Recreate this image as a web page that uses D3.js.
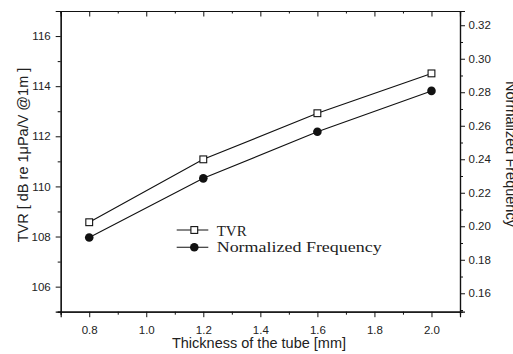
<!DOCTYPE html>
<html>
<head>
<meta charset="utf-8">
<script src="https://cdn.jsdelivr.net/npm/d3@7"></script>
<style>
  html, body { margin: 0; padding: 0; background: #fff; }
  svg { display: block; }
  .tick text { font-family: Arial, "Liberation Sans", sans-serif; font-size: 11.5px; fill: #222; }
</style>
</head>
<body>
<svg id="chart" width="513" height="354"></svg>
<script>
// Tube wall thickness (mm)
const thickness = [0.8, 1.2, 1.6, 2.0];
// Transmitting voltage response, dB re 1uPa/V @1m (left axis)
const tvr = [108.57, 111.08, 112.92, 114.51];
// Normalized resonance frequency (right axis)
const normFreq = [0.1933, 0.2286, 0.2564, 0.2808];

const xMajorTicks = [0.8, 1.0, 1.2, 1.4, 1.6, 1.8, 2.0];
const xMinorTicks = [0.7, 0.9, 1.1, 1.3, 1.5, 1.7, 1.9, 2.1];
const yLeftMajorTicks = [106, 108, 110, 112, 114, 116];
const yLeftMinorTicks = [105, 107, 109, 111, 113, 115, 117];
const yRightMajorTicks = [0.16, 0.18, 0.20, 0.22, 0.24, 0.26, 0.28, 0.30, 0.32];
const yRightMinorTicks = [0.15, 0.17, 0.19, 0.21, 0.23, 0.25, 0.27, 0.29, 0.31];

const seriesNames = ["TVR", "Normalized Frequency"];

const svg = d3.select("#chart");
const plot = { left: 60.7, right: 460, top: 11, bottom: 311.7 };

const x = d3.scaleLinear().domain([0.7, 2.1]).range([plot.left, plot.right]);
const yL = d3.scaleLinear().domain([105, 117]).range([plot.bottom, plot.top]);
const yR = d3.scaleLinear().domain([0.149, 0.3285]).range([plot.bottom, plot.top]);

svg.append("rect").attr("width", 513).attr("height", 354).attr("fill", "#fff");

function styleAxis(g) {
  g.select(".domain").attr("stroke", "#111").attr("stroke-width", 1.2);
  g.selectAll(".tick line").attr("stroke", "#111").attr("stroke-width", 1);
}

// Bottom axis
svg.append("g").attr("transform", `translate(0,${plot.bottom})`)
  .call(d3.axisBottom(x).tickValues(xMajorTicks).tickSize(5.5).tickPadding(9)
    .tickFormat(d3.format(".1f")))
  .call(styleAxis);
svg.append("g").attr("transform", `translate(0,${plot.bottom})`)
  .call(d3.axisBottom(x).tickValues(xMinorTicks).tickSize(3).tickFormat(""))
  .call(styleAxis);

// Top axis (ticks inward)
svg.append("g").attr("transform", `translate(0,${plot.top})`)
  .call(d3.axisTop(x).tickValues(xMajorTicks).tickSize(-5.5).tickFormat(""))
  .call(styleAxis);
svg.append("g").attr("transform", `translate(0,${plot.top})`)
  .call(d3.axisTop(x).tickValues(xMinorTicks).tickSize(-2.5).tickFormat(""))
  .call(styleAxis);

// Left axis
svg.append("g").attr("transform", `translate(${plot.left},0)`)
  .call(d3.axisLeft(yL).tickValues(yLeftMajorTicks).tickSize(5).tickPadding(5)
    .tickFormat(d3.format("d")))
  .call(styleAxis);
svg.append("g").attr("transform", `translate(${plot.left},0)`)
  .call(d3.axisLeft(yL).tickValues(yLeftMinorTicks).tickSize(3).tickFormat(""))
  .call(styleAxis);

// Right axis
svg.append("g").attr("transform", `translate(${plot.right},0)`)
  .call(d3.axisRight(yR).tickValues(yRightMajorTicks).tickSize(5).tickPadding(3.5)
    .tickFormat(d3.format(".2f")))
  .call(styleAxis);
svg.append("g").attr("transform", `translate(${plot.right},0)`)
  .call(d3.axisRight(yR).tickValues(yRightMinorTicks).tickSize(3).tickFormat(""))
  .call(styleAxis);

// Axis titles
const titleFont = "Arial, 'Liberation Sans', sans-serif";
svg.append("text")
  .attr("transform", "translate(27.5,155) rotate(-90)")
  .attr("text-anchor", "middle")
  .attr("font-family", titleFont).attr("font-size", 14.5).attr("fill", "#222")
  .text("TVR [ dB re 1\u03BCPa/V @1m ]");
svg.append("text")
  .attr("transform", "translate(506,154) rotate(90)")
  .attr("text-anchor", "middle")
  .attr("font-family", titleFont).attr("font-size", 14.5).attr("fill", "#222")
  .text("Normalized Frequency");
svg.append("text")
  .attr("x", 259).attr("y", 348)
  .attr("text-anchor", "middle")
  .attr("font-family", titleFont).attr("font-size", 14.5).attr("fill", "#222")
  .text("Thickness of the tube [mm]");

// Series
const tvrPts = thickness.map((t, i) => [x(t), yL(tvr[i])]);
const nfPts = thickness.map((t, i) => [x(t), yR(normFreq[i])]);
const line = d3.line();

svg.append("path").attr("d", line(tvrPts))
  .attr("fill", "none").attr("stroke", "#111").attr("stroke-width", 1.1);
svg.append("path").attr("d", line(nfPts))
  .attr("fill", "none").attr("stroke", "#111").attr("stroke-width", 1.1);

const sq = 6.8;
svg.append("g").selectAll("rect").data(tvrPts).join("rect")
  .attr("x", d => d[0] - sq / 2).attr("y", d => d[1] - sq / 2)
  .attr("width", sq).attr("height", sq)
  .attr("fill", "#fff").attr("stroke", "#111").attr("stroke-width", 1.1);
svg.append("g").selectAll("circle").data(nfPts).join("circle")
  .attr("cx", d => d[0]).attr("cy", d => d[1]).attr("r", 4.3)
  .attr("fill", "#111");

// Legend
const legend = svg.append("g");
const lgX0 = 176.7, lgX1 = 208.3, lgMid = 194.3, lgText = 216.7;
const rows = [230, 247.3];
rows.forEach((ry, i) => {
  legend.append("line").attr("x1", lgX0).attr("x2", lgX1).attr("y1", ry).attr("y2", ry)
    .attr("stroke", "#111").attr("stroke-width", 1.1);
  if (i === 0) {
    legend.append("rect").attr("x", lgMid - sq / 2).attr("y", ry - sq / 2)
      .attr("width", sq).attr("height", sq)
      .attr("fill", "#fff").attr("stroke", "#111").attr("stroke-width", 1.1);
  } else {
    legend.append("circle").attr("cx", lgMid).attr("cy", ry).attr("r", 4.3).attr("fill", "#111");
  }
});
legend.append("text").attr("x", lgText).attr("y", 236)
  .attr("font-family", "'Liberation Serif', 'Times New Roman', serif")
  .attr("font-size", 15).attr("fill", "#222")
  .attr("textLength", 30).attr("lengthAdjust", "spacingAndGlyphs")
  .text(seriesNames[0]);
legend.append("text").attr("x", lgText).attr("y", 251.5)
  .attr("font-family", "'Liberation Serif', 'Times New Roman', serif")
  .attr("font-size", 15).attr("fill", "#222")
  .attr("textLength", 165).attr("lengthAdjust", "spacingAndGlyphs")
  .text(seriesNames[1]);
</script>
</body>
</html>
